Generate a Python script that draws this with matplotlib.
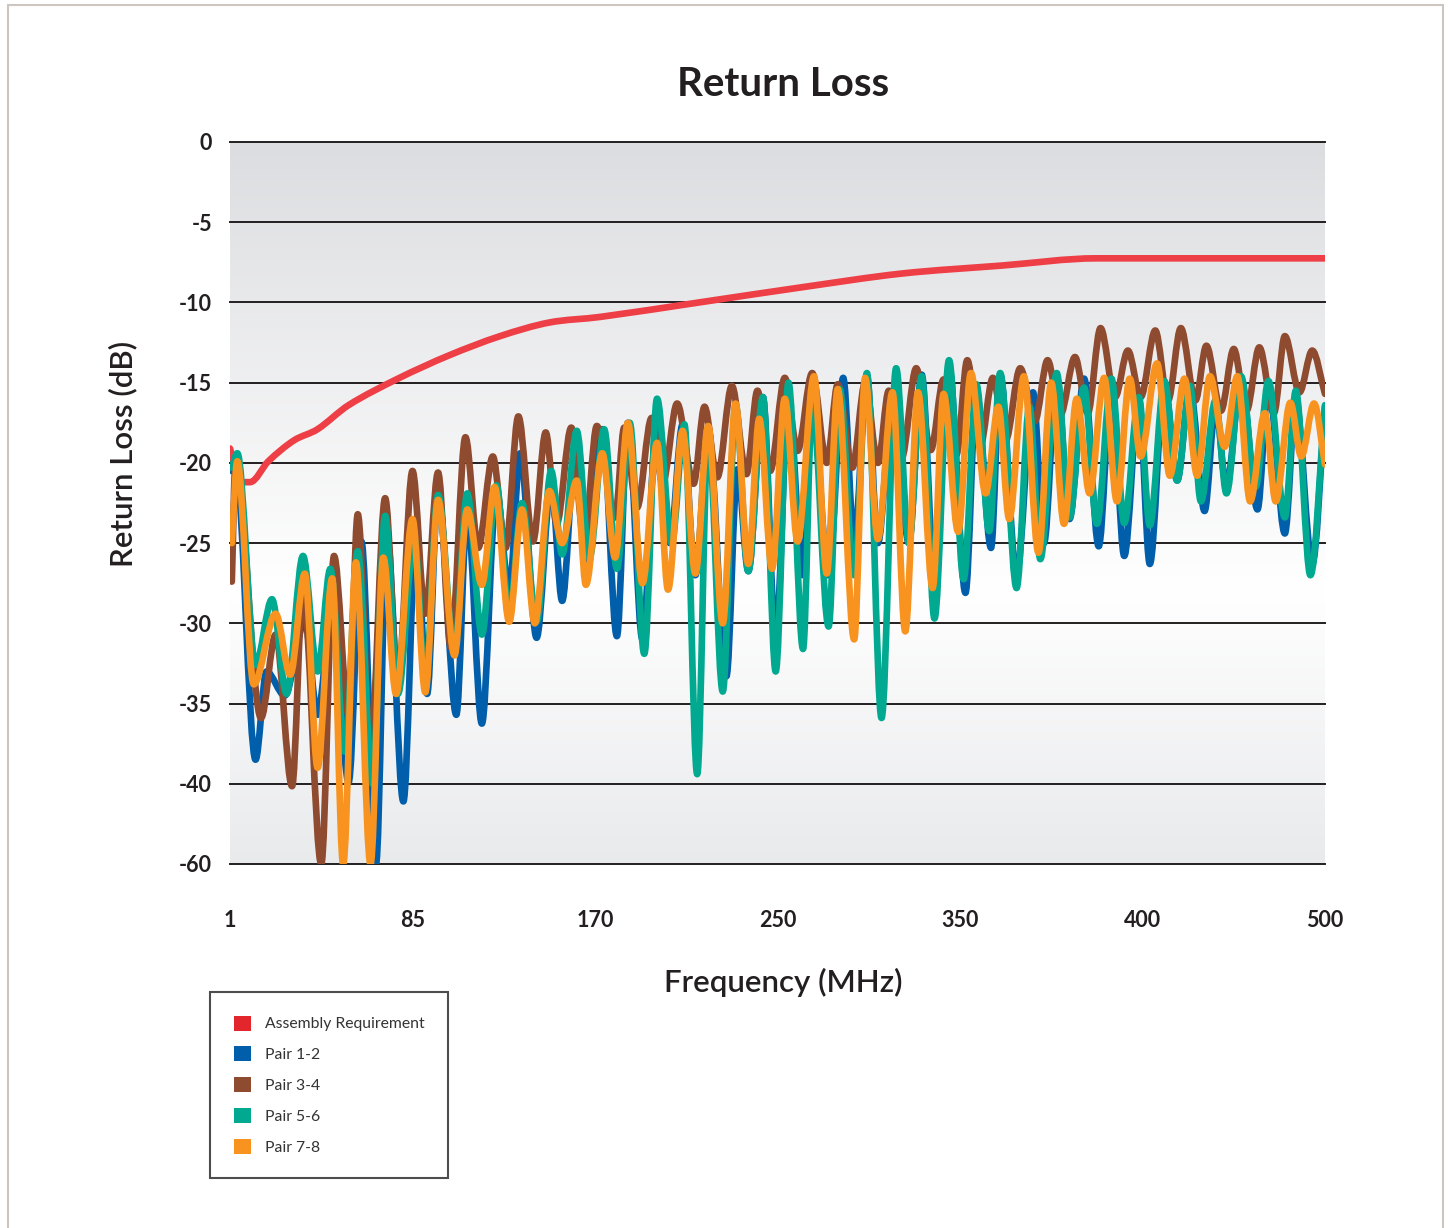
import numpy as np
import matplotlib
matplotlib.use("Agg")
import matplotlib.pyplot as plt
from matplotlib.colors import LinearSegmentedColormap
from matplotlib.patches import Patch, Rectangle, PathPatch
from matplotlib.path import Path

plt.rcParams["font.family"] = ["Lato", "DejaVu Sans"]

# x is the tick position (0..6), labels are the MHz values printed under it
x_ticks = [0, 1, 2, 3, 4, 5, 6]
x_labels = ["1", "85", "170", "250", "350", "400", "500"]
y_ticks = [0, -5, -10, -15, -20, -25, -30, -35, -40, -60]

# Assembly Requirement limit line
req_x = [0.00, 0.06, 0.11, 0.21, 0.35, 0.48, 0.65, 0.92, 1.20, 1.48, 1.75, 2.03,
         2.57, 3.13, 3.68, 4.23, 4.75, 6.00]
req_y = [-19.1, -21.2, -21.2, -19.9, -18.6, -17.9, -16.4, -14.75, -13.3, -12.1,
         -11.25, -10.9, -10.0, -9.06, -8.2, -7.7, -7.25, -7.25]

# Pair 1-2 (blue)
p12_x = [0.01, 0.03, 0.14, 0.20, 0.30, 0.41, 0.48, 0.56, 0.65, 0.72, 0.80, 0.86,
         0.95, 1.02, 1.08, 1.14, 1.24, 1.30, 1.38, 1.46, 1.53, 1.59, 1.68, 1.76,
         1.82, 1.89, 1.96, 2.04, 2.12, 2.18, 2.26, 2.34, 2.41, 2.48, 2.55, 2.62,
         2.72, 2.78, 2.84, 2.92, 2.99, 3.06, 3.14, 3.19, 3.28, 3.36, 3.42, 3.49,
         3.55, 3.63, 3.72, 3.79, 3.86, 3.94, 4.03, 4.09, 4.17, 4.22, 4.31, 4.40,
         4.46, 4.53, 4.60, 4.68, 4.76, 4.83, 4.90, 4.98, 5.04, 5.12, 5.19, 5.26,
         5.34, 5.40, 5.46, 5.54, 5.63, 5.69, 5.78, 5.84, 5.93, 6.00]
p12_y = [-20.5, -19.8, -38.5, -33.0, -34.5, -29.9, -35.7, -28.8, -39.9, -24.9, -60, -24.5,
         -44.4, -24.4, -34.4, -21.75, -35.7, -23.0, -36.25, -21.75, -28.0, -19.4, -30.9, -21.3,
         -28.6, -19.7, -26.6, -17.9, -30.8, -17.5, -31.0, -17.25, -25.0, -17.6, -27.0, -17.9,
         -33.3, -20.4, -26.75, -15.9, -31.0, -16.2, -27.0, -16.0, -27.0, -14.7, -25.0, -14.6,
         -25.0, -16.0, -25.0, -14.5, -27.0, -14.0, -28.1, -15.5, -25.3, -14.5, -27.0, -15.6,
         -25.0, -14.6, -23.5, -14.75, -25.2, -15.0, -25.8, -16.0, -26.3, -15.0, -21.1, -15.3,
         -23.0, -16.5, -21.5, -14.8, -22.9, -15.1, -24.4, -16.1, -26.3, -16.5]

# Pair 3-4 (brown)
p34_x = [0.01, 0.03, 0.17, 0.25, 0.34, 0.40, 0.50, 0.57, 0.65, 0.70, 0.77, 0.85,
         0.92, 1.00, 1.07, 1.14, 1.21, 1.29, 1.36, 1.44, 1.51, 1.58, 1.66, 1.73,
         1.79, 1.87, 1.94, 2.01, 2.11, 2.16, 2.23, 2.31, 2.37, 2.45, 2.54, 2.60,
         2.67, 2.75, 2.83, 2.89, 2.96, 3.04, 3.11, 3.19, 3.27, 3.33, 3.41, 3.48,
         3.55, 3.61, 3.68, 3.76, 3.84, 3.91, 3.98, 4.04, 4.11, 4.18, 4.25, 4.33,
         4.41, 4.48, 4.55, 4.63, 4.70, 4.77, 4.85, 4.92, 4.99, 5.07, 5.14, 5.21,
         5.29, 5.35, 5.43, 5.50, 5.57, 5.64, 5.72, 5.78, 5.86, 5.93, 6.00]
p34_y = [-27.4, -20.0, -35.9, -30.7, -40.6, -27.8, -60, -25.8, -35.7, -23.2, -37.8, -22.2,
         -33.6, -20.5, -29.4, -20.6, -31.5, -18.4, -25.3, -19.6, -25.3, -17.1, -24.9, -18.1,
         -23.8, -17.8, -24.9, -17.7, -23.4, -17.8, -22.8, -17.2, -21.3, -16.3, -21.3, -16.5,
         -20.9, -15.2, -20.7, -15.5, -20.5, -14.7, -19.25, -14.4, -20.0, -15.1, -20.3, -15.0,
         -20.0, -15.5, -19.7, -14.1, -19.2, -14.8, -19.5, -13.6, -19.0, -14.7, -18.6, -14.1,
         -17.4, -13.6, -17.0, -13.4, -16.9, -11.6, -15.9, -13.0, -15.9, -11.75, -16.1, -11.6,
         -16.1, -12.7, -16.75, -12.9, -16.75, -12.8, -16.9, -12.1, -15.6, -13.0, -15.7]

# Pair 5-6 (green)
p56_x = [0.01, 0.04, 0.14, 0.23, 0.31, 0.40, 0.48, 0.55, 0.63, 0.70, 0.78, 0.85,
         0.92, 1.01, 1.07, 1.14, 1.23, 1.30, 1.38, 1.46, 1.53, 1.60, 1.68, 1.76,
         1.82, 1.90, 1.97, 2.05, 2.12, 2.19, 2.27, 2.34, 2.42, 2.49, 2.56, 2.62,
         2.70, 2.77, 2.84, 2.92, 2.99, 3.06, 3.14, 3.19, 3.28, 3.34, 3.42, 3.49,
         3.57, 3.65, 3.72, 3.79, 3.86, 3.94, 4.02, 4.09, 4.16, 4.22, 4.31, 4.38,
         4.44, 4.53, 4.60, 4.68, 4.75, 4.83, 4.90, 4.98, 5.04, 5.12, 5.19, 5.26,
         5.32, 5.40, 5.46, 5.54, 5.62, 5.69, 5.78, 5.84, 5.92, 6.00]
p56_y = [-20.3, -19.4, -32.6, -28.5, -34.4, -25.8, -33.0, -26.6, -38.0, -25.5, -40.0, -23.3,
         -34.4, -24.7, -33.6, -22.0, -31.75, -21.9, -30.7, -21.4, -29.4, -22.5, -29.9, -20.5,
         -25.7, -18.0, -25.9, -17.9, -26.6, -17.5, -31.9, -16.0, -25.0, -17.6, -39.4, -17.9,
         -34.25, -16.4, -26.75, -15.9, -33.0, -15.0, -31.6, -16.1, -30.2, -15.4, -27.0, -14.4,
         -35.9, -14.1, -25.0, -14.6, -29.7, -13.6, -27.25, -15.1, -24.25, -14.4, -27.8, -16.5,
         -26.0, -14.4, -23.4, -15.3, -23.8, -14.75, -23.75, -15.9, -23.9, -14.9, -21.1, -15.2,
         -22.4, -16.1, -21.9, -14.6, -21.5, -14.9, -23.4, -15.5, -27.0, -16.4]

# Pair 7-8 (orange)
p78_x = [0.01, 0.04, 0.13, 0.25, 0.33, 0.41, 0.48, 0.56, 0.62, 0.69, 0.77, 0.84,
         0.91, 1.00, 1.07, 1.14, 1.23, 1.30, 1.38, 1.45, 1.53, 1.60, 1.67, 1.75,
         1.82, 1.90, 1.95, 2.04, 2.11, 2.18, 2.26, 2.34, 2.40, 2.48, 2.55, 2.62,
         2.70, 2.77, 2.84, 2.90, 2.97, 3.04, 3.11, 3.20, 3.27, 3.33, 3.42, 3.48,
         3.55, 3.63, 3.70, 3.77, 3.85, 3.91, 3.99, 4.06, 4.14, 4.21, 4.27, 4.35,
         4.43, 4.50, 4.57, 4.64, 4.71, 4.79, 4.86, 4.93, 4.99, 5.08, 5.15, 5.23,
         5.30, 5.37, 5.45, 5.52, 5.59, 5.67, 5.73, 5.81, 5.87, 5.94, 6.00]
p78_y = [-25.0, -19.9, -33.8, -29.4, -33.2, -26.9, -39.0, -27.2, -60, -26.2, -60, -25.9,
         -34.4, -23.5, -34.3, -22.3, -32.0, -22.9, -27.6, -21.5, -29.9, -22.9, -30.0, -21.75,
         -25.0, -21.1, -27.6, -19.4, -25.9, -17.5, -27.5, -18.75, -27.9, -18.0, -26.9, -17.7,
         -30.0, -16.3, -26.3, -17.25, -26.6, -16.0, -24.9, -14.6, -26.9, -15.4, -31.0, -14.7,
         -24.75, -15.6, -30.5, -15.6, -27.8, -15.7, -24.3, -14.4, -21.9, -16.5, -23.5, -14.6,
         -25.6, -15.0, -23.8, -16.0, -21.9, -14.7, -22.4, -14.75, -19.6, -13.8, -20.8, -14.75,
         -20.8, -14.6, -19.0, -14.6, -22.4, -16.9, -22.4, -16.25, -19.6, -16.3, -20.1]

series = [
    ("Pair 1-2", p12_x, p12_y, "#005eab"),
    ("Pair 3-4", p34_x, p34_y, "#8e4b2f"),
    ("Pair 5-6", p56_x, p56_y, "#00a98f"),
    ("Pair 7-8", p78_x, p78_y, "#f7931e"),
]


def to_axis(v):
    # the axis jumps from -40 to -60 in one step, so squeeze that range
    v = np.asarray(v, dtype=float)
    return np.where(v < -40, -40 + (v + 40) / 4, v)


def smooth_path(xs, ys):
    # smoothed line through every point (cubic Hermite, flat at peaks/dips)
    x = np.asarray(xs, dtype=float)
    y = np.asarray(ys, dtype=float)
    n = len(x)
    m = np.zeros(n)
    m[0] = (y[1] - y[0]) / (x[1] - x[0])
    m[-1] = (y[-1] - y[-2]) / (x[-1] - x[-2])
    for i in range(1, n - 1):
        if (y[i] - y[i - 1]) * (y[i + 1] - y[i]) > 0:
            m[i] = (y[i + 1] - y[i - 1]) / (x[i + 1] - x[i - 1])
    verts = [(x[0], y[0])]
    codes = [Path.MOVETO]
    for i in range(n - 1):
        h = x[i + 1] - x[i]
        verts += [(x[i] + h / 3, y[i] + m[i] * h / 3),
                  (x[i + 1] - h / 3, y[i + 1] - m[i + 1] * h / 3),
                  (x[i + 1], y[i + 1])]
        codes += [Path.CURVE4] * 3
    return Path(verts, codes)


fig = plt.figure(figsize=(14.49, 12.28), dpi=100)
ax = fig.add_axes([230 / 1449, 1 - 864 / 1228, 1095 / 1449, 722 / 1228])

# background gradient
grad = LinearSegmentedColormap.from_list(
    "bg", [(0, "#dcdde0"), (0.62, "#ffffff"), (1, "#e9eaec")])
ax.imshow(np.linspace(0, 1, 256).reshape(-1, 1), cmap=grad, aspect="auto",
          extent=[0, 6, -45, 0], zorder=0)

ax.add_patch(PathPatch(smooth_path(req_x, req_y), fill=False, edgecolor="#ee3f47",
                       lw=4.8, capstyle="round", joinstyle="round", zorder=3))
for name, xs, ys, col in series:
    ax.add_patch(PathPatch(smooth_path(xs, to_axis(ys)), fill=False, edgecolor=col,
                           lw=4.8, capstyle="round", joinstyle="round", zorder=4))

ax.set_xlim(0, 6)
ax.set_ylim(-45, 0)
ax.set_xticks(x_ticks)
ax.set_xticklabels(x_labels)
ax.set_yticks(to_axis(y_ticks))
ax.set_yticklabels([str(t) for t in y_ticks])
ax.tick_params(axis="both", length=0, labelsize=15.5, labelcolor="#231f20")
ax.tick_params(axis="x", pad=33)
ax.tick_params(axis="y", pad=13)
for lab in ax.get_xticklabels() + ax.get_yticklabels():
    lab.set_fontweight("bold")
for s in ax.spines.values():
    s.set_visible(False)
for t in to_axis(y_ticks):
    ax.axhline(t, color="#231f20", lw=1.4, zorder=2, clip_on=False)

fig.text(783 / 1449, 1 - 84 / 1228, "Return Loss", ha="center", va="center",
         fontsize=29, fontweight="bold", color="#231f20")
fig.text(123 / 1449, 1 - 454 / 1228, "Return Loss (dB)", rotation=90,
         ha="center", va="center", fontsize=22.5, fontweight="semibold", color="#231f20")
fig.text(783 / 1449, 1 - 982 / 1228, "Frequency (MHz)", ha="center", va="center",
         fontsize=22.5, fontweight="semibold", color="#231f20")

handles = [Patch(facecolor="#e3262b", edgecolor="none", label="Assembly Requirement")]
handles += [Patch(facecolor=c, edgecolor="none", label=n) for n, _, _, c in series]
leg = fig.legend(handles=handles, loc="upper left",
                 bbox_to_anchor=(210 / 1449, 1 - 992 / 1228), frameon=True,
                 fancybox=False, edgecolor="#231f20", fontsize=11.3,
                 handlelength=1.1, handleheight=1.1, handletextpad=0.9,
                 labelspacing=0.95, borderpad=1.5, borderaxespad=0)
leg.get_frame().set_linewidth(1.5)
for t in leg.get_texts():
    t.set_color("#333333")

# thin outer frame of the figure
fig.patches.append(Rectangle((8 / 1449, -0.01), 1435 / 1449, 1 - 5 / 1228 + 0.01,
                             transform=fig.transFigure, fill=False,
                             edgecolor="#cdc6c0", lw=1.5))

fig.savefig("out.png", dpi=100)
